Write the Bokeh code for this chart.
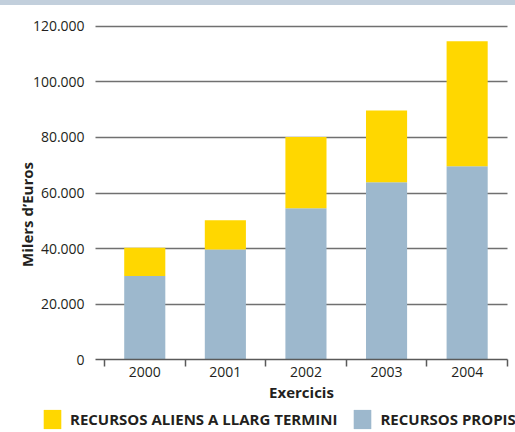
from bokeh.plotting import figure
from bokeh.models import (ColumnDataSource, Range1d, FixedTicker, Legend, LegendItem,
                          LinearAxis, Grid, Label, Div)
from bokeh.layouts import column
from bokeh.embed import file_html
from bokeh.resources import INLINE

# ---- data ----
years = ["2000", "2001", "2002", "2003", "2004"]
recursos_propis = [30200, 39700, 54500, 63900, 69600]
recursos_aliens = [10100, 10500, 25600, 25700, 44900]
y_ticks = [0, 20000, 40000, 60000, 80000, 100000, 120000]
y_tick_labels = ["0", "20.000", "40.000", "60.000", "80.000", "100.000", "120.000"]
series_names = ["RECURSOS ALIENS A LLARG TERMINI", "RECURSOS PROPIS"]

YELLOW = "#ffd700"
BLUE = "#9db8cd"
TEXT = "#231f20"
AXIS = "#5a5a5a"
FONT = "Open Sans"

# layout extents (the frame covers the whole canvas; axes sit at fixed places)
X_VIEW = (-1.29, 5.10)
Y_VIEW = (-26050, 127370)
X_AXIS_SPAN = (-0.11, len(years))

xpos = [i + 0.5 for i in range(len(years))]
src = ColumnDataSource(dict(x=xpos, propis=recursos_propis, aliens=recursos_aliens))

p = figure(width=515, height=427, output_backend="svg", toolbar_location=None,
           x_range=Range1d(*X_VIEW), y_range=Range1d(*Y_VIEW),
           x_axis_location=None, y_axis_location=None,
           min_border_left=0, min_border_right=0, min_border_top=0, min_border_bottom=0)
p.outline_line_color = None
p.background_fill_color = "white"
p.border_fill_color = "white"

# drop the default grids
p.center = [c for c in p.center if not isinstance(c, Grid)]

# horizontal grid lines, limited to the plotting area
if "cross_bounds" in Grid.properties():
    grid = Grid(dimension=1, ticker=FixedTicker(ticks=y_ticks[1:]),
                cross_bounds=X_AXIS_SPAN, grid_line_color="#707070", grid_line_width=1.5)
    p.add_layout(grid)
else:
    gy = y_ticks[1:]
    p.segment(x0=[X_AXIS_SPAN[0]] * len(gy), x1=[X_AXIS_SPAN[1]] * len(gy), y0=gy, y1=gy,
              line_color="#707070", line_width=1.5, level="underlay")

r = p.vbar_stack(["propis", "aliens"], x="x", width=0.51, source=src,
                 color=[BLUE, YELLOW], line_color=None)

# x axis at y = 0
xaxis = LinearAxis(fixed_location=0, bounds=X_AXIS_SPAN,
                   ticker=FixedTicker(ticks=xpos, minor_ticks=list(range(len(years) + 1))))
xaxis.major_label_overrides = {x: y for x, y in zip(xpos, years)}
xaxis.major_tick_out = 0
xaxis.major_tick_in = 0
xaxis.minor_tick_out = 7
xaxis.minor_tick_in = 0
xaxis.minor_tick_line_color = AXIS
xaxis.minor_tick_line_width = 1.5
xaxis.axis_line_color = AXIS
xaxis.axis_line_width = 1.5
xaxis.major_label_standoff = 0
xaxis.major_label_text_font = FONT
xaxis.major_label_text_font_size = "14px"
xaxis.major_label_text_color = TEXT
xaxis.axis_label = "Exercicis"
xaxis.axis_label_text_font = FONT
xaxis.axis_label_text_font_style = "bold"
xaxis.axis_label_text_font_size = "15px"
xaxis.axis_label_text_color = TEXT
xaxis.axis_label_standoff = 2
p.add_layout(xaxis, "below")

# y axis at the left edge of the plotting area
yaxis = LinearAxis(fixed_location=X_AXIS_SPAN[0], bounds=(y_ticks[0], y_ticks[-1]),
                   ticker=FixedTicker(ticks=y_ticks))
yaxis.major_label_overrides = {t: l for t, l in zip(y_ticks, y_tick_labels)}
yaxis.axis_line_color = None
yaxis.major_tick_line_color = None
yaxis.minor_tick_line_color = None
yaxis.major_label_standoff = 5
yaxis.major_label_text_font = FONT
yaxis.major_label_text_font_size = "14px"
yaxis.major_label_text_color = TEXT
p.add_layout(yaxis, "left")

ytitle = Label(x=-0.96, y=52300, text="Milers d\u2019Euros", angle=1.5707963,
               text_align="center", text_baseline="middle", text_font=FONT,
               text_font_style="bold", text_font_size="15px", text_color=TEXT)
p.add_layout(ytitle)

legend = Legend(items=[LegendItem(label=series_names[0], renderers=[r[1]]),
                       LegendItem(label=series_names[1], renderers=[r[0]])],
                orientation="horizontal", location=(41, 1),
                glyph_width=22, glyph_height=24, label_standoff=7, spacing=14,
                padding=0, margin=0, border_line_color=None, background_fill_alpha=0,
                label_text_font=FONT, label_text_font_style="bold",
                label_text_font_size="15px", label_text_color=TEXT,
                label_text_baseline="middle")
p.add_layout(legend)

band = Div(width=515, height=5, margin=0, styles={"background-color": "#c2cfdc"})
layout = column(band, p, spacing=0)

open("out.html", "w").write(file_html(layout, INLINE))
